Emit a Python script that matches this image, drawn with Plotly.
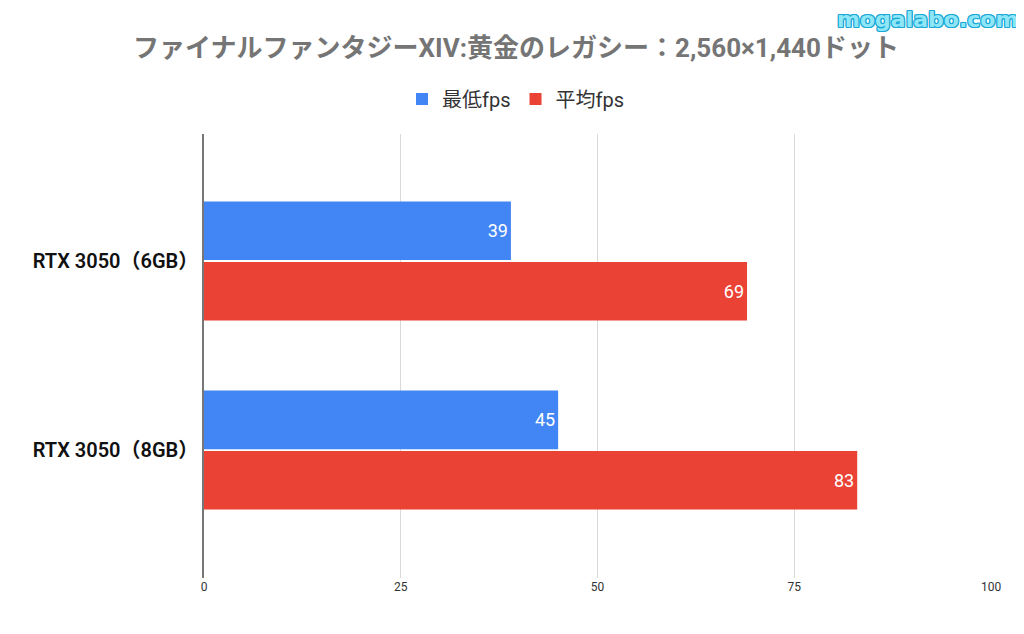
import plotly.graph_objects as go

# data
gpus = ['RTX 3050（6GB）', 'RTX 3050（8GB）']
min_fps = [39, 45]
avg_fps = [69, 83]
x_ticks = [0, 25, 50, 75, 100]

title_text = 'ファイナルファンタジーXIV:黄金のレガシー：2,560×1,440ドット'
font_family = 'Roboto, "Noto Sans CJK JP", sans-serif'

# the page body has an 8px margin, so the figure is 8px smaller than the window
W, H = 1016, 626
L, R, T, B = 196, 33, 126, 56
PW, PH = W - L - R, H - T - B

fig = go.Figure()
fig.add_trace(go.Bar(
    y=gpus, x=min_fps, orientation='h', name='最低fps',
    marker=dict(color='#4285F4', line=dict(width=0)),
    text=min_fps, textposition='inside', insidetextanchor='end',
    textfont=dict(color='#ffffff', size=18, family=font_family),
))
fig.add_trace(go.Bar(
    y=gpus, x=avg_fps, orientation='h', name='平均fps',
    marker=dict(color='#EA4335', line=dict(width=0)),
    text=avg_fps, textposition='inside', insidetextanchor='end',
    textfont=dict(color='#ffffff', size=18, family=font_family),
))

outline = ', '.join(f'#1ba8d6 {dx}px {dy}px 0' for dx, dy in
                    [(1, 0), (-1, 0), (0, 1), (0, -1), (1, 1), (-1, -1), (1, -1), (-1, 1)])

fig.update_layout(
    width=W, height=H,
    paper_bgcolor='white', plot_bgcolor='white',
    font=dict(family=font_family),
    margin=dict(l=L, r=R, t=T, b=B),
    barmode='group', bargap=0.36, bargroupgap=0.03,
    title=dict(text='<b>' + title_text + '</b>', x=0.5, xref='container', xanchor='center',
               y=1 - 40 / H, yanchor='middle',
               font=dict(size=26, color='#757575', family=font_family)),
    legend=dict(orientation='h', x=0.5, xref='container', xanchor='center',
                y=1 - 91 / H, yref='container', yanchor='middle',
                font=dict(size=20, color='#333333', family=font_family),
                traceorder='normal'),
    xaxis=dict(range=[0, 100], tickvals=x_ticks, showgrid=True,
               gridcolor='#d9d9d9', gridwidth=1, zeroline=False,
               tickfont=dict(size=12, color='#333333'), ticks='',
               fixedrange=True),
    yaxis=dict(type='category', range=[1.677, -0.672], showgrid=False,
               showline=True, linecolor='#777777', linewidth=1.5,
               tickfont=dict(size=20, color='#111111', family=font_family, weight=600),
               ticks=''),
    annotations=[dict(
        text='<b>mogalabo.com</b>', x=(1012 - L) / PW, xref='paper', xanchor='right',
        y=(H - 11 - B) / PH, yref='paper', yanchor='middle', showarrow=False,
        font=dict(size=22, color='#8fe6f7', family='"DejaVu Sans", sans-serif',
                  shadow=outline),
    )],
)

fig.write_html('out.html')
